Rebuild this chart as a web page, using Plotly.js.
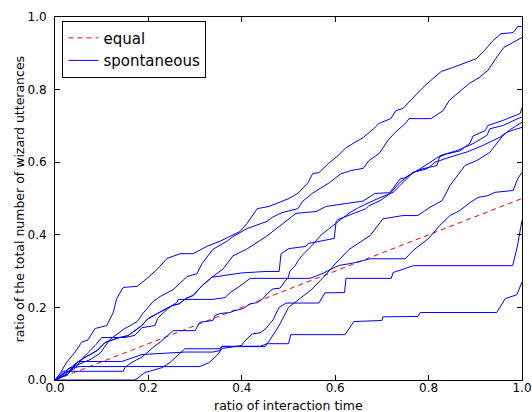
<!DOCTYPE html>
<html><head><meta charset="utf-8">
<script src="https://cdn.plot.ly/plotly-3.0.1.min.js"></script>
<style>html,body{margin:0;padding:0;background:#fff}#chart{width:532px;height:412px}</style>
</head><body><div id="chart"></div>
<script>
// equal reference line
const equalX = [0, 1];
const equalY = [0, 0.5];

// spontaneous curves (ratio of interaction time -> ratio of wizard utterances)
const aX = [0,0.012,0.025,0.043,0.057,0.070,0.086,0.111,0.125,0.132,0.146,0.176,0.197,0.218,0.240,0.268,0.296,0.325,0.353,0.396,0.411,0.433,0.458,0.473,0.501,0.520,0.542,0.552,0.565,0.585,0.606,0.623,0.638,0.660,0.683,0.694,0.719,0.730,0.745,0.767,0.788,0.809,0.827,0.852,0.880,0.902,0.919,0.938,0.955,0.981,0.991,1.0];
const aY = [0,0.020,0.049,0.077,0.104,0.110,0.142,0.150,0.187,0.224,0.255,0.258,0.280,0.304,0.335,0.348,0.348,0.368,0.382,0.409,0.431,0.472,0.478,0.486,0.500,0.514,0.544,0.569,0.571,0.596,0.618,0.640,0.651,0.668,0.693,0.707,0.720,0.742,0.748,0.778,0.806,0.830,0.850,0.861,0.874,0.885,0.907,0.935,0.954,0.957,0.974,0.974];

const bX = [0,0.004,0.026,0.039,0.075,0.096,0.118,0.146,0.176,0.188,0.210,0.225,0.253,0.283,0.304,0.315,0.338,0.368,0.381,0.411,0.454,0.465,0.486,0.520,0.531,0.552,0.587,0.612,0.634,0.660,0.672,0.694,0.713,0.726,0.752,0.758,0.805,0.831,0.844,0.874,0.887,0.908,0.927,0.944,0.961,0.981,1.0];
const bY = [0,0.001,0.018,0.037,0.056,0.073,0.112,0.139,0.161,0.183,0.216,0.230,0.249,0.285,0.293,0.321,0.360,0.382,0.395,0.417,0.437,0.448,0.461,0.472,0.493,0.515,0.543,0.568,0.577,0.583,0.604,0.624,0.660,0.679,0.709,0.720,0.720,0.742,0.770,0.803,0.817,0.833,0.853,0.886,0.916,0.930,0.944];

const cX = [0,0.028,0.047,0.064,0.090,0.107,0.135,0.156,0.186,0.199,0.229,0.251,0.266,0.281,0.296,0.315,0.336,0.370,0.400,0.452,0.480,0.484,0.501,0.537,0.542,0.598,0.602,0.606,0.666,0.672,0.696,0.717,0.739,0.767,0.788,0.818,0.824,0.861,0.895,0.925,0.931,0.959,0.981,0.991,1.0];
const cY = [0,0.016,0.048,0.062,0.081,0.103,0.116,0.122,0.150,0.169,0.190,0.205,0.210,0.225,0.233,0.260,0.283,0.290,0.295,0.299,0.299,0.348,0.362,0.368,0.376,0.390,0.437,0.442,0.472,0.480,0.494,0.513,0.545,0.572,0.582,0.591,0.618,0.632,0.651,0.674,0.692,0.701,0.715,0.720,0.724];

const dX = [0,0.021,0.043,0.058,0.071,0.086,0.100,0.150,0.171,0.186,0.214,0.220,0.242,0.261,0.264,0.338,0.364,0.375,0.392,0.411,0.418,0.546,0.552,0.574,0.600,0.610,0.638,0.660,0.675,0.750,0.767,0.800,0.824,0.846,0.867,0.889,0.906,0.927,0.942,0.981,0.991,1.0];
const dY = [0,0.018,0.032,0.059,0.076,0.095,0.117,0.117,0.123,0.144,0.150,0.170,0.197,0.214,0.222,0.222,0.227,0.241,0.255,0.274,0.280,0.280,0.283,0.294,0.311,0.316,0.322,0.330,0.334,0.334,0.357,0.390,0.426,0.453,0.467,0.489,0.503,0.508,0.517,0.522,0.555,0.572];

const eX = [0,0.017,0.146,0.150,0.165,0.186,0.199,0.210,0.225,0.240,0.253,0.300,0.310,0.338,0.343,0.353,0.375,0.385,0.403,0.418,0.433,0.445,0.456,0.467,0.482,0.493,0.499,0.503,0.514,0.520,0.529,0.550,0.570,0.600,0.630,0.650,0.675,0.690,0.724,0.745,0.767,0.797,0.814,0.846,0.882,0.916,0.953,0.968,0.991,1.0];
const eY = [0,0.024,0.024,0.035,0.049,0.063,0.077,0.090,0.104,0.122,0.136,0.136,0.159,0.164,0.178,0.183,0.186,0.191,0.197,0.210,0.213,0.224,0.240,0.251,0.253,0.273,0.281,0.300,0.314,0.328,0.343,0.370,0.400,0.430,0.460,0.475,0.490,0.499,0.517,0.545,0.572,0.582,0.600,0.614,0.628,0.646,0.669,0.683,0.692,0.696];

const fX = [0,0.030,0.050,0.143,0.186,0.278,0.338,0.353,0.357,0.450,0.460,0.480,0.500,0.520,0.550,0.580,0.600,0.630,0.675,0.702,0.745,0.777,0.803,0.829,0.846,0.878,0.904,0.931,0.959,0.975,1.0];
const fY = [0,0.030,0.051,0.051,0.070,0.077,0.077,0.081,0.092,0.092,0.110,0.150,0.200,0.220,0.250,0.290,0.320,0.360,0.398,0.444,0.453,0.453,0.476,0.494,0.536,0.591,0.605,0.627,0.673,0.690,0.710];

const gX = [0,0.028,0.047,0.064,0.090,0.107,0.135,0.156,0.186,0.199,0.229,0.251,0.266,0.281,0.296,0.315,0.336,0.360,0.381,0.410,0.452,0.480,0.516,0.531,0.559,0.580,0.660,0.685,0.717,0.739,0.749,0.782,0.818,0.839,0.867,0.889,0.895,0.921,0.927,0.959,0.974,0.996,1.0];
const gY = [0,0.016,0.048,0.062,0.081,0.103,0.116,0.122,0.150,0.169,0.190,0.205,0.210,0.225,0.233,0.260,0.283,0.306,0.342,0.360,0.395,0.423,0.459,0.461,0.464,0.478,0.493,0.514,0.516,0.554,0.557,0.582,0.612,0.623,0.631,0.653,0.672,0.687,0.701,0.715,0.723,0.734,0.750];

const hX = [0,0.015,0.030,0.054,0.310,0.330,0.347,0.358,0.400,0.403,0.422,0.439,0.452,0.467,0.480,0.495,0.565,0.578,0.620,0.623,0.720,0.724,0.745,0.767,0.980,0.990,1.0];
const hY = [0,0.015,0.033,0.037,0.037,0.048,0.068,0.087,0.095,0.103,0.127,0.130,0.142,0.166,0.200,0.212,0.212,0.240,0.241,0.280,0.280,0.296,0.305,0.315,0.315,0.368,0.440];

const iX = [0,0.170,0.176,0.193,0.208,0.229,0.246,0.263,0.278,0.353,0.357,0.440,0.454,0.500,0.505,0.621,0.640,0.700,0.702,0.777,0.782,0.946,0.953,0.964,0.989,1.0];
const iY = [0,0,0.004,0.021,0.026,0.034,0.048,0.067,0.086,0.086,0.093,0.093,0.100,0.100,0.125,0.125,0.161,0.164,0.174,0.175,0.186,0.186,0.200,0.224,0.235,0.270];

const curves = [[aX,aY],[bX,bY],[cX,cY],[dX,dY],[eX,eY],[fX,fY],[gX,gY],[hX,hY],[iX,iY]];

const traces = [{
  x: equalX, y: equalY, mode: 'lines', name: 'equal', legendrank: 1,
  line: {color: 'red', width: 1, dash: '5px,4px'}
}];
curves.forEach((c, k) => traces.push({
  x: c[0], y: c[1], mode: 'lines', name: 'spontaneous', showlegend: k === 0, legendrank: 2,
  line: {color: '#0000ff', width: 1}
}));

const axisCommon = {
  range: [0, 1], tickvals: [0, 0.2, 0.4, 0.6, 0.8, 1.0], tickformat: '.1f',
  showgrid: false, zeroline: false, showline: true, linecolor: '#000', linewidth: 1,
  mirror: 'ticks', ticks: 'inside', ticklen: 5, tickcolor: '#000', tickwidth: 1,
  tickfont: {family: 'DejaVu Sans', size: 12, color: '#000'}, fixedrange: true
};

const layout = {
  width: 532, height: 412,
  margin: {l: 55, r: 10, t: 17, b: 32, pad: 0},
  paper_bgcolor: '#fff', plot_bgcolor: '#fff',
  font: {family: 'DejaVu Sans', color: '#000'},
  xaxis: Object.assign({}, axisCommon, {ticklabelstandoff: -3}),
  yaxis: Object.assign({}, axisCommon, {ticklabelstandoff: 5}),
  showlegend: true,
  legend: {
    x: 0.016, y: 0.99, xanchor: 'left', yanchor: 'top',
    bordercolor: '#000', borderwidth: 1, bgcolor: '#fff',
    font: {family: 'DejaVu Sans', size: 15, color: '#000'},
    itemwidth: 30, traceorder: 'normal', tracegroupgap: 0
  },
  annotations: [
    {text: 'ratio of interaction time', xref: 'paper', yref: 'paper', x: 0.5, y: -0.07,
     xanchor: 'center', yanchor: 'middle', showarrow: false,
     font: {family: 'DejaVu Sans', size: 12.5, color: '#000'}},
    {text: 'ratio of the total number of wizard utterances', xref: 'paper', yref: 'paper',
     x: -0.075, y: 0.5, xanchor: 'center', yanchor: 'middle', textangle: -90, showarrow: false,
     font: {family: 'DejaVu Sans', size: 12.5, color: '#000'}}
  ]
};

Plotly.newPlot('chart', traces, layout, {staticPlot: true, displayModeBar: false});
</script></body></html>
